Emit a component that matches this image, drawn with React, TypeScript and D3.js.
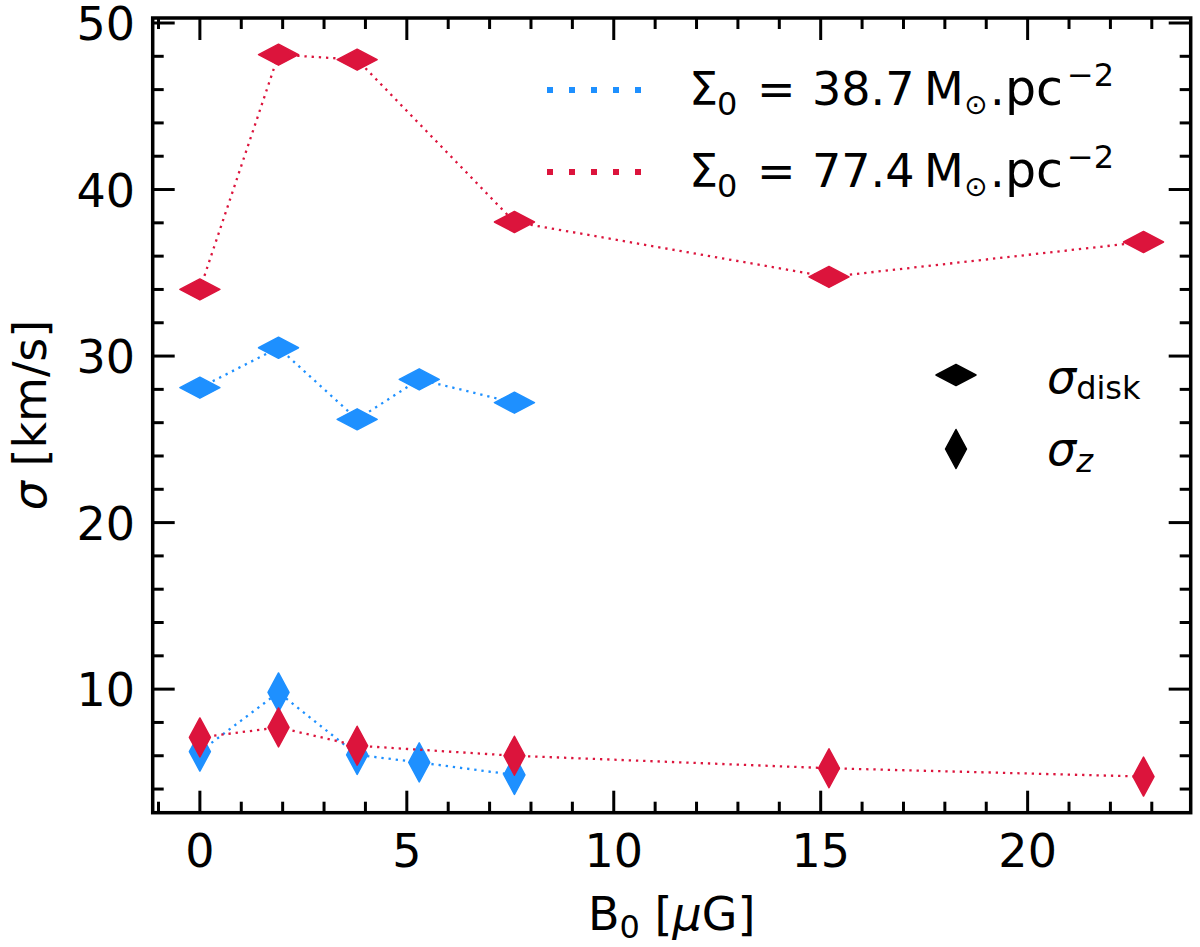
import React from 'react';
import * as d3 from 'd3';

// B0 values [muG] for each run
const xBlue = [0, 1.9, 3.8, 5.3, 7.6];
const xRed = [0, 1.9, 3.8, 7.6, 15.2, 22.8];

// sigma_disk and sigma_z [km/s]
const blueDisk = [28.1, 30.5, 26.2, 28.6, 27.2];
const blueZ = [6.25, 9.8, 6.05, 5.6, 4.85];
const redDisk = [34.0, 48.1, 47.8, 38.05, 34.75, 36.85];
const redZ = [7.1, 7.7, 6.6, 6.0, 5.25, 4.75];

const xMajor = [0, 5, 10, 15, 20];
const yMajor = [10, 20, 30, 40, 50];

const legendValues = ['38.7', '77.4'];

const BLUE = '#1e90ff';
const RED = '#dc143c';
const FONT = 'DejaVu Sans, sans-serif';

const W = 1200;
const H = 947;
const left = 152.7;
const right = 1190.7;
const top = 18;
const bottom = 812.7;

const x = d3.scaleLinear().domain([-1.14, 23.94]).range([left, right]);
const y = d3.scaleLinear().domain([2.58, 50.3]).range([bottom, top]);

const xMinor = d3.range(-1, 24, 1).filter(v => !xMajor.includes(v));
const yMinor = d3.range(4, 51, 2).filter(v => !yMajor.includes(v));

const diskPath = (cx: number, cy: number) => `M${cx - 20},${cy}L${cx},${cy - 10.5}L${cx + 20},${cy}L${cx},${cy + 10.5}Z`;
const zPath = (cx: number, cy: number) => `M${cx},${cy - 19.5}L${cx + 10.5},${cy}L${cx},${cy + 19.5}L${cx - 10.5},${cy}Z`;

const line = d3.line<[number, number]>().x(d => x(d[0])).y(d => y(d[1]));

const Series = ({ xs, ys, color, kind }: { xs: number[]; ys: number[]; color: string; kind: 'disk' | 'z' }) => {
    const pts = xs.map((v, i) => [v, ys[i]] as [number, number]);
    return (
        <g>
            <path d={line(pts) || ''} fill="none" stroke={color} strokeWidth={2.3} strokeDasharray="2.3,4.9" />
            {pts.map((p, i) => (
                <path
                    key={i}
                    d={kind === 'disk' ? diskPath(x(p[0]), y(p[1])) : zPath(x(p[0]), y(p[1]))}
                    fill={color}
                    stroke={color}
                    strokeWidth={1.5}
                    strokeLinejoin="round"
                />
            ))}
        </g>
    );
};

// one row of the surface density legend, pieces placed like the mathtext
const LegendRow = ({ value, color, base }: { value: string; color: string; base: number }) => (
    <g>
        <line x1={547} x2={642} y1={base - 15} y2={base - 15} stroke={color} strokeWidth={6} strokeDasharray="6,16" />
        <g fontSize={46}>
            <text x={689} y={base}>Σ</text>
            <text x={717} y={base + 10} fontSize={32}>0</text>
            <text x={757} y={base}>=</text>
            <text x={812} y={base}>{value}</text>
            <text x={924} y={base}>M</text>
            <text x={964} y={base + 9} fontSize={28}>⊙</text>
            <text x={990} y={base}>.</text>
            <text x={1005} y={base} fontSize={49}>pc</text>
            <text x={1067} y={base - 19} fontSize={32}>−2</text>
        </g>
    </g>
);

export default function App() {
    const major = 22;
    const minor = 11;
    return (
        <div style={{ position: 'absolute', left: 0, top: 0 }}>
            <svg width={W} height={H} style={{ display: 'block', background: '#fff' }} fontFamily={FONT}>
                {/* data */}
                <Series xs={xBlue} ys={blueDisk} color={BLUE} kind="disk" />
                <Series xs={xRed} ys={redDisk} color={RED} kind="disk" />
                <Series xs={xBlue} ys={blueZ} color={BLUE} kind="z" />
                <Series xs={xRed} ys={redZ} color={RED} kind="z" />

                {/* ticks, inward on all four sides */}
                <g stroke="#000" strokeWidth={3}>
                    {xMajor.map(v => (
                        <g key={'xM' + v}>
                            <line x1={x(v)} x2={x(v)} y1={bottom} y2={bottom - major} />
                            <line x1={x(v)} x2={x(v)} y1={top} y2={top + major} />
                        </g>
                    ))}
                    {xMinor.map(v => (
                        <g key={'xm' + v}>
                            <line x1={x(v)} x2={x(v)} y1={bottom} y2={bottom - minor} />
                            <line x1={x(v)} x2={x(v)} y1={top} y2={top + minor} />
                        </g>
                    ))}
                    {yMajor.map(v => (
                        <g key={'yM' + v}>
                            <line x1={left} x2={left + major} y1={y(v)} y2={y(v)} />
                            <line x1={right} x2={right - major} y1={y(v)} y2={y(v)} />
                        </g>
                    ))}
                    {yMinor.map(v => (
                        <g key={'ym' + v}>
                            <line x1={left} x2={left + minor} y1={y(v)} y2={y(v)} />
                            <line x1={right} x2={right - minor} y1={y(v)} y2={y(v)} />
                        </g>
                    ))}
                </g>
                <rect x={left} y={top} width={right - left} height={bottom - top} fill="none" stroke="#000" strokeWidth={3.5} />

                {/* tick labels */}
                <g fontSize={46} fill="#000">
                    {xMajor.map(v => (
                        <text key={'xl' + v} x={x(v)} y={867} textAnchor="middle">{v}</text>
                    ))}
                    {yMajor.map(v => (
                        <text key={'yl' + v} x={135} y={y(v) + 17} textAnchor="end">{v}</text>
                    ))}
                </g>

                {/* axis labels */}
                <text x={(left + right) / 2} y={930} textAnchor="middle" fontSize={46}>
                    B<tspan fontSize={32} dy={8}>0</tspan><tspan dy={-8}> [</tspan><tspan fontStyle="italic">μ</tspan>G]
                </text>
                <text transform="translate(46,415) rotate(-90)" textAnchor="middle" fontSize={46}>
                    <tspan fontStyle="italic">σ</tspan> [km/s]
                </text>

                {/* legend: surface density */}
                <LegendRow value={legendValues[0]} color={BLUE} base={105} />
                <LegendRow value={legendValues[1]} color={RED} base={187} />

                {/* legend: marker kinds */}
                <path d={diskPath(956, 375)} fill="#000" stroke="#000" strokeWidth={1.5} strokeLinejoin="round" />
                <path d={zPath(956, 449)} fill="#000" stroke="#000" strokeWidth={1.5} strokeLinejoin="round" />
                <text x={1047} y={393} fontSize={46}>
                    <tspan fontStyle="italic">σ</tspan><tspan fontSize={32} dy={6}>disk</tspan>
                </text>
                <text x={1047} y={465} fontSize={46}>
                    <tspan fontStyle="italic">σ</tspan><tspan fontSize={32} fontStyle="italic" dy={7}>z</tspan>
                </text>
            </svg>
        </div>
    );
}
